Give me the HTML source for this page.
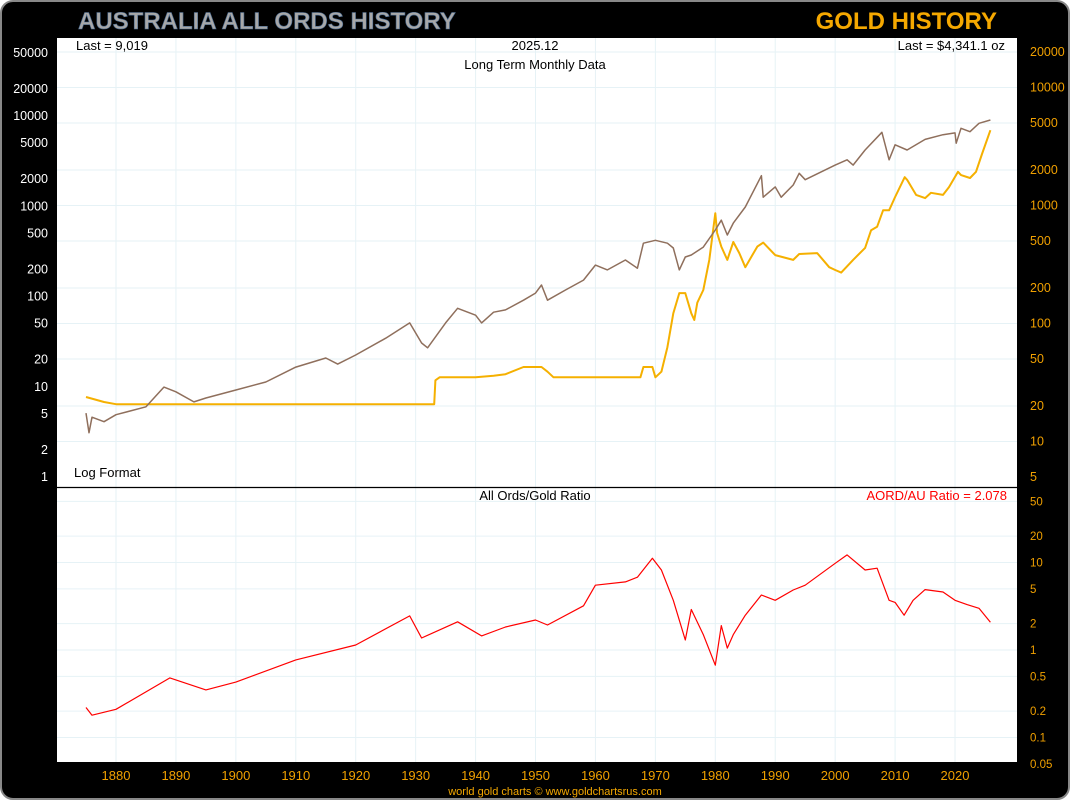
<!DOCTYPE html>
<html><head><meta charset="utf-8"><style>
html,body{margin:0;padding:0;background:#fff;}
svg{display:block;font-family:"Liberation Sans",sans-serif;}
</style></head><body>
<svg id="chart" width="1070" height="800" viewBox="0 0 1070 800">
<rect x="1" y="1" width="1068" height="798" rx="12" fill="#000" stroke="#888" stroke-width="2"/>
<text x="78" y="29" font-size="24" font-weight="bold" fill="#a8a8a8" stroke="#4a6a90" stroke-width="0.6">AUSTRALIA ALL ORDS HISTORY</text>
<text x="997" y="29" font-size="24" font-weight="bold" fill="#f5a800" text-anchor="end">GOLD HISTORY</text>
<rect x="57" y="38" width="960" height="724" fill="#fff"/>
<g id="grid"></g>
<g id="axes"></g>
<g id="series"></g>
<line x1="57" y1="487.5" x2="1017" y2="487.5" stroke="#000" stroke-width="1.2"/>
<text x="76" y="50" font-size="13" fill="#000">Last = 9,019</text>
<text x="535" y="50" font-size="13" fill="#000" text-anchor="middle">2025.12</text>
<text x="535" y="69" font-size="13" fill="#000" text-anchor="middle">Long Term Monthly Data</text>
<text x="1005" y="50" font-size="13" fill="#000" text-anchor="end">Last = $4,341.1 oz</text>
<text x="74" y="477" font-size="13" fill="#000">Log Format</text>
<text x="535" y="500" font-size="13" fill="#000" text-anchor="middle">All Ords/Gold Ratio</text>
<text x="1007" y="500" font-size="13" fill="#ff0000" text-anchor="end">AORD/AU Ratio = 2.078</text>
<text x="555" y="795" font-size="11" fill="#f5a800" text-anchor="middle">world gold charts © www.goldchartsrus.com</text>
</svg>
<script>
const aordYears=[1875,1875.5,1876,1878,1880,1885,1888,1890,1893,1895,1900,1905,1910,1915,1917,1920,1925,1929,1931,1932,1935,1937,1940,1941,1943,1945,1948,1950,1951,1952,1955,1958,1960,1962,1965,1967,1968,1970,1972,1973,1974,1975,1976,1978,1980,1981,1982,1983,1985,1987.7,1988,1990,1991,1993,1994,1995,2000,2002,2003,2005,2007.8,2009,2010,2012,2015,2018,2020,2020.2,2021,2022.5,2024,2025.9];
const aordValues=[5.1,3.1,4.6,4.1,4.9,6.0,9.9,8.8,6.8,7.5,9.2,11.3,16.5,20.8,17.8,22.5,34.5,51,30.5,27,51,74,62,51,67,71,91,109,134,91,118,152,223,197,254,206,390,420,390,345,197,274,288,353,545,700,480,650,980,2180,1260,1640,1260,1720,2320,1970,2860,3270,2860,4200,6600,3270,4800,4200,5500,6200,6500,5000,7300,6700,8300,9019];
const goldYears=[1875,1878,1880,1933.1,1933.3,1934,1940,1943,1945,1948,1951,1952,1953,1967.5,1968,1969.5,1970,1971,1972,1973,1974,1975,1976,1976.5,1977,1978,1979,1980,1980.3,1981,1982,1983,1984,1985,1987,1988,1990,1993,1994,1997,1999,2000,2001,2003,2005,2006,2007,2008,2009,2010,2011.6,2012,2013.5,2015,2016,2018,2019,2020.5,2021,2022.5,2023.5,2024.5,2025.9];
const goldValues=[23.8,21.6,20.7,20.7,33,35,35,36,37.2,42.8,42.8,39,35,35,42.8,42.8,35,39,63,122,181,181,122,107,150,192,346,860,585,448,346,490,395,300,448,485,380,346,388,395,300,284,270,346,437,617,660,910,910,1180,1735,1650,1230,1155,1280,1230,1430,1930,1810,1710,1930,2730,4341];
const ratioYears=[1875,1876,1880,1889,1895,1900,1910,1920,1929,1931,1937,1941,1945,1950,1952,1958,1960,1965,1967,1969.5,1971,1973,1975,1976,1978,1980,1981,1982,1983,1985,1987.7,1990,1993,1995,2000,2002,2005,2007,2009,2010,2011.5,2013,2015,2018,2020,2022,2024,2025.9];
const ratioValues=[0.22,0.18,0.21,0.48,0.35,0.43,0.77,1.14,2.45,1.37,2.1,1.45,1.83,2.2,1.93,3.2,5.5,6.0,6.8,11.2,8.2,3.7,1.3,2.9,1.5,0.67,1.9,1.05,1.5,2.5,4.25,3.7,4.85,5.5,9.8,12.2,8.2,8.6,3.7,3.5,2.5,3.7,4.9,4.6,3.7,3.3,3.0,2.078];
const xTicks=[1880,1890,1900,1910,1920,1930,1940,1950,1960,1970,1980,1990,2000,2010,2020];
const leftTicks=[1,2,5,10,20,50,100,200,500,1000,2000,5000,10000,20000,50000];
const rightTicks=[5,10,20,50,100,200,500,1000,2000,5000,10000,20000];
const ratioTicks=[0.05,0.1,0.2,0.5,1,2,5,10,20,50];

const NS="http://www.w3.org/2000/svg";
const X=y=>116+(y-1880)*5.993;
const YL=v=>477-90.25*Math.log10(v);
const YR=v=>477-118*Math.log10(v/5);
const YB=v=>650-87.5*Math.log10(v);
function mk(tag,attrs,parent){const e=document.createElementNS(NS,tag);for(const k in attrs)e.setAttribute(k,attrs[k]);parent.appendChild(e);return e;}
const grid=document.getElementById('grid'),axes=document.getElementById('axes'),series=document.getElementById('series');
xTicks.forEach(t=>{
  const l=mk('line',{x1:X(t),x2:X(t),y1:38,y2:762,stroke:'#e6f2f6','stroke-width':1},grid);
  
  
  const tx=mk('text',{x:X(t),y:780,'font-size':13,fill:'#f0a000','text-anchor':'middle'},axes);
  tx.textContent=t;
  
  
});
rightTicks.forEach(t=>{
  const y=YR(t);
  if(y>40&&y<476){const l=mk('line',{x1:57,x2:1017,y1:y,y2:y,stroke:'#e6f2f6','stroke-width':1},grid);
  
  }
  const tx=mk('text',{x:1030,y:y+4,'font-size':12.5,fill:'#f0a000'},axes);
  tx.textContent=t;
  
  
});
leftTicks.forEach(t=>{
  const tx=mk('text',{x:48,y:YL(t)+4,'font-size':12.5,fill:'#fff','text-anchor':'end'},axes);
  tx.textContent=t;
  
  
});
ratioTicks.forEach(t=>{
  const y=YB(t);
  if(y<760){const l=mk('line',{x1:57,x2:1017,y1:y,y2:y,stroke:'#e6f2f6','stroke-width':1},grid);
  
  }
  const tx=mk('text',{x:1030,y:y+4,'font-size':11.5,fill:'#f0a000'},axes);
  tx.textContent=t;
  
  
});
function path(xs,vs,yf,color,w,name){
  const d=xs.map((x,i)=>(i?'L':'M')+X(x).toFixed(1)+','+yf(vs[i]).toFixed(1)).join(' ');
  const p=mk('path',{d:d,fill:'none',stroke:color,'stroke-width':w,'stroke-linejoin':'round'},series);
  
  
}
path(goldYears,goldValues,YR,'#f5b000',2,'gold-line');
path(aordYears,aordValues,YL,'#8f6f5c',1.5,'aord-line');
path(ratioYears,ratioValues,YB,'#ff0000',1.2,'ratio-line');
</script>
</body></html>
